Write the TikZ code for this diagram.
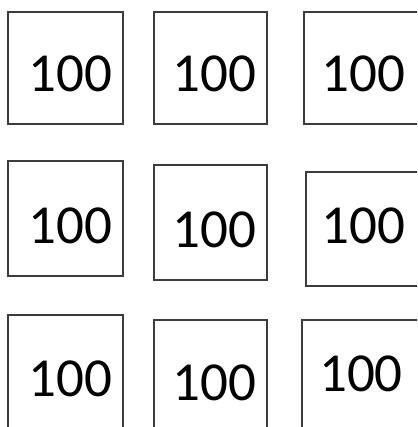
\documentclass[tikz,border=0pt]{standalone}
\usepackage{fontspec}
\setmainfont{Carlito}
\usetikzlibrary{positioning}
\definecolor{boxline}{RGB}{60,60,60}

\begin{document}
\begin{tikzpicture}[
  x=1pt, y=-1pt,
  box/.style={draw=boxline, line width=1.5pt, fill=white, inner sep=0pt},
  num/.style={inner sep=0pt, font=\fontsize{55}{60}\selectfont, text=black}
]
\useasboundingbox[fill=white] (0,0) rectangle (417,427);
\clip (0,0) rectangle (417,427);

% row 1
\node[box, minimum width=115pt, minimum height=112pt] (b11) at (65.5,68)  {};
\node[box, minimum width=113pt, minimum height=112pt] (b12) at (210.5,68) {};
\node[box, minimum width=121pt, minimum height=112pt] (b13) at (364.5,68) {};
\node[num] (t11) at (70.5,74)  {100};
\node[num] (t12) at (214.5,74) {100};
\node[num] (t13) at (363.5,74) {100};

% row 2
\node[box, minimum width=115pt, minimum height=115pt] (b21) at (65.5,218.5) {};
\node[box, minimum width=113pt, minimum height=115pt] (b22) at (210.5,222.5) {};
\node[box, minimum width=119pt, minimum height=114pt] (b23) at (365.5,229)   {};
\node[num] (t21) at (70.5,226)  {100};
\node[num] (t22) at (214.5,229.5) {100};
\node[num] (t23) at (363.5,226) {100};

% row 3
\node[box, minimum width=115pt, minimum height=120pt] (b31) at (65.5,375)  {};
\node[box, minimum width=113pt, minimum height=115pt] (b32) at (210.5,377.5) {};
\node[box, minimum width=123pt, minimum height=115pt] (b33) at (363.5,377.5) {};
\node[num] (t31) at (70.5,379)  {100};
\node[num] (t32) at (214.5,382.5) {100};
\node[num] (t33) at (361,374)   {100};
\end{tikzpicture}
\end{document}
